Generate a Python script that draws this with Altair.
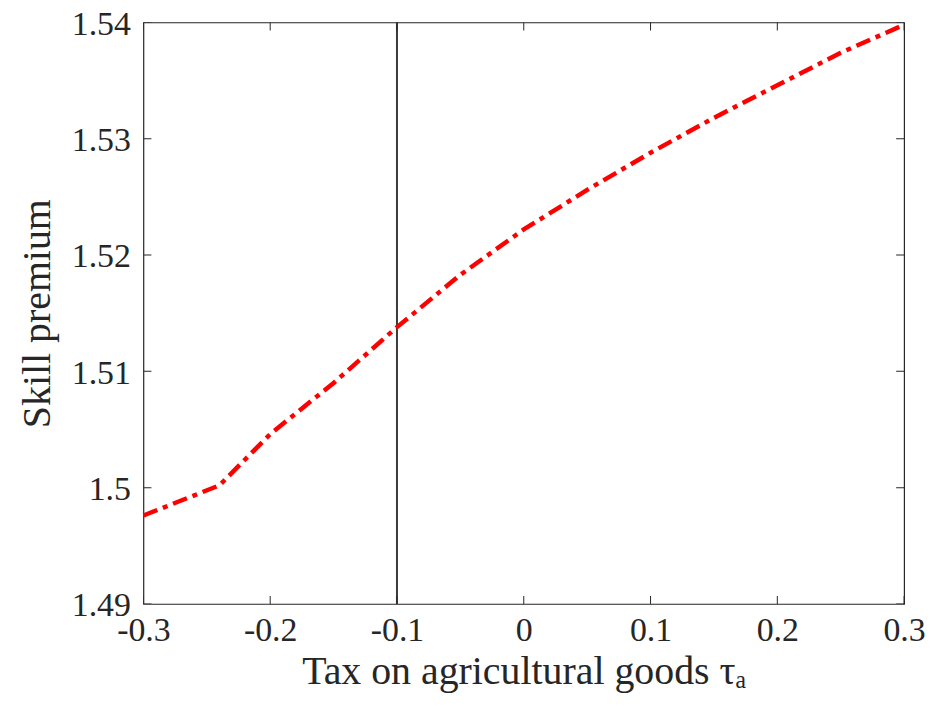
import altair as alt
import pandas as pd

# data
tax = [-0.3, -0.24, -0.2, -0.15, -0.1, -0.05, 0.0, 0.05, 0.1, 0.15, 0.2, 0.25, 0.3]
premium = [1.4976, 1.5002, 1.5046, 1.5090, 1.5138, 1.5183, 1.5222, 1.5256,
           1.5288, 1.5318, 1.5346, 1.5374, 1.5398]
x_ticks = [-0.3, -0.2, -0.1, 0.0, 0.1, 0.2, 0.3]
y_ticks = [1.49, 1.50, 1.51, 1.52, 1.53, 1.54]
x_domain = [-0.3, 0.3]
y_domain = [1.49, 1.54]
baseline_tax = [-0.1]

FONT = "Liberation Serif"
AX = "#262626"

df = pd.DataFrame({"tax": tax, "premium": premium})
xt = pd.DataFrame({"t": x_ticks})
yt = pd.DataFrame({"t": y_ticks})
vl = pd.DataFrame({"t": baseline_tax})

xscale = alt.Scale(domain=x_domain, nice=False, zero=False)
yscale = alt.Scale(domain=y_domain, nice=False, zero=False)

x_axis = alt.Axis(values=x_ticks, ticks=False, domain=False, grid=False,
                  labelFont=FONT, labelFontSize=34, labelColor=AX,
                  labelPadding=10,
                  labelExpr="datum.value == 0 ? '0' : replace(format(datum.value, '.1f'), '\u2212', '-')",
                  title="Tax on agricultural goods τₐ", titleFont=FONT,
                  titleFontSize=40, titleFontWeight="normal", titleColor=AX,
                  titlePadding=4, labelFlush=False)
y_axis = alt.Axis(values=y_ticks, ticks=False, domain=False, grid=False,
                  labelFont=FONT, labelFontSize=34, labelColor=AX,
                  labelPadding=13, labelOffset=2,
                  labelExpr="datum.value == 1.5 ? '1.5' : format(datum.value, '.2f')",
                  title="Skill premium", titleFont=FONT,
                  titleFontSize=40, titleFontWeight="normal", titleColor=AX,
                  titlePadding=14, labelFlush=False)

line = alt.Chart(df).mark_line(color="#ff0000", strokeWidth=4.5,
                               strokeDash=[15, 6, 5, 6]).encode(
    x=alt.X("tax:Q", scale=xscale, axis=x_axis),
    y=alt.Y("premium:Q", scale=yscale, axis=y_axis),
)

vline = alt.Chart(vl).mark_rule(color="#3a3a3a", strokeWidth=2).encode(
    x=alt.X("t:Q", scale=xscale)
)

tick_len = 16
bottom_ticks = alt.Chart(xt).mark_tick(orient="vertical", size=tick_len, thickness=1,
                                       color=AX, clip=True, opacity=1).encode(
    x=alt.X("t:Q", scale=xscale), y=alt.datum(y_domain[0], scale=yscale))
top_ticks = alt.Chart(xt).mark_tick(orient="vertical", size=tick_len, thickness=1,
                                    color=AX, clip=True, opacity=1).encode(
    x=alt.X("t:Q", scale=xscale), y=alt.datum(y_domain[1], scale=yscale))
left_ticks = alt.Chart(yt).mark_tick(orient="horizontal", size=tick_len, thickness=1,
                                     color=AX, clip=True, opacity=1).encode(
    y=alt.Y("t:Q", scale=yscale), x=alt.datum(x_domain[0], scale=xscale))
right_ticks = alt.Chart(yt).mark_tick(orient="horizontal", size=tick_len, thickness=1,
                                      color=AX, clip=True, opacity=1).encode(
    y=alt.Y("t:Q", scale=yscale), x=alt.datum(x_domain[1], scale=xscale))

chart = alt.layer(vline, line, bottom_ticks, top_ticks, left_ticks, right_ticks).properties(
    width=764, height=584,
    autosize=alt.AutoSizeParams(type="none"),
    padding={"left": 136, "top": 13, "right": 24, "bottom": 100},
    background="white",
).configure_view(stroke=AX, strokeWidth=1.2)

chart.save("out.html", embed_options={"renderer": "svg", "actions": False})
